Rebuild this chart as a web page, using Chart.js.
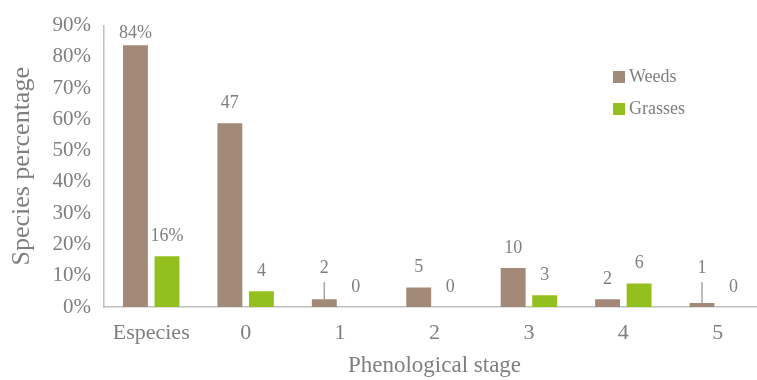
<!DOCTYPE html>
<html>
<head>
<meta charset="utf-8">
<script src="https://cdn.jsdelivr.net/npm/chart.js@4"></script>
<style>
  html, body { margin: 0; padding: 0; background: #fff; overflow: hidden; }
  #wrap { width: 765px; height: 380px; }
</style>
</head>
<body>
<div id="wrap"><canvas id="stageChart"></canvas></div>
<script>
// stages and species counts per stage
const categories = ['Especies', '0', '1', '2', '3', '4', '5'];
const weedCounts = [67, 47, 2, 5, 10, 2, 1];
const grassCounts = [13, 4, 0, 0, 3, 6, 0];
const totalSpecies = 80;
const yTickValues = [0, 10, 20, 30, 40, 50, 60, 70, 80, 90];

const weedPct = weedCounts.map(c => c / totalSpecies * 100);
const grassPct = grassCounts.map(c => c / totalSpecies * 100);

const serif = "'Liberation Serif', 'DejaVu Serif', serif";
const textGray = '#7F7F7F';
const axisGray = '#BFBFBF';

// labels for tiny bars are lifted with a leader line
const leaderLines = [[0, 2], [0, 6]];

function labelText(ds, i) {
  const counts = ds === 0 ? weedCounts : grassCounts;
  const pct = ds === 0 ? weedPct : grassPct;
  return i === 0 ? Math.round(pct[i]) + '%' : String(counts[i]);
}

const barLabels = {
  id: 'barLabels',
  afterDatasetsDraw(chart) {
    const ctx = chart.ctx;
    const top = chart.chartArea.top;
    const base = chart.scales.y.getPixelForValue(0);
    ctx.save();
    ctx.font = '18px ' + serif;
    ctx.fillStyle = textGray;
    ctx.textAlign = 'center';
    ctx.textBaseline = 'middle';
    chart.data.datasets.forEach((d, ds) => {
      chart.getDatasetMeta(ds).data.forEach((bar, i) => {
        const lifted = leaderLines.some(p => p[0] === ds && p[1] === i);
        let y = lifted ? base - 39 : Math.max(bar.y - 20, top + 8);
        ctx.fillText(labelText(ds, i), bar.x, y);
        if (lifted) {
          ctx.strokeStyle = '#A6A6A6';
          ctx.lineWidth = 1.5;
          ctx.beginPath();
          ctx.moveTo(bar.x, y + 14);
          ctx.lineTo(bar.x, bar.y);
          ctx.stroke();
        }
      });
    });

    // legend
    ctx.textAlign = 'left';
    chart.data.datasets.forEach((d, ds) => {
      const ly = 77 + ds * 32;
      ctx.fillStyle = d.backgroundColor;
      ctx.fillRect(613, ly - 6, 12, 12);
      ctx.fillStyle = textGray;
      ctx.fillText(d.label, 629, ly);
    });
    ctx.restore();
  }
};

new Chart(document.getElementById('stageChart'), {
  type: 'bar',
  data: {
    labels: categories,
    datasets: [
      {
        label: 'Weeds',
        data: weedPct,
        backgroundColor: '#A38978',
        categoryPercentage: 0.668,
        barPercentage: 0.79
      },
      {
        label: 'Grasses',
        data: grassPct,
        backgroundColor: '#93C01F',
        categoryPercentage: 0.668,
        barPercentage: 0.79
      }
    ]
  },
  options: {
    responsive: true,
    maintainAspectRatio: false,
    animation: false,
    layout: { padding: { top: 20, right: 0, bottom: 0, left: 0 } },
    plugins: {
      legend: { display: false },
      tooltip: { enabled: false }
    },
    scales: {
      x: {
        grid: { display: false, drawTicks: false },
        border: { color: axisGray, width: 1.5 },
        ticks: { color: textGray, font: { family: serif, size: 22 }, padding: 13 },
        title: {
          display: true,
          text: 'Phenological stage',
          color: textGray,
          font: { family: serif, size: 23 },
          padding: { top: 0, bottom: 0 }
        },
        afterFit(scale) { scale.height = 73; }
      },
      y: {
        min: 0,
        max: 90,
        afterBuildTicks(scale) { scale.ticks = yTickValues.map(v => ({ value: v })); },
        grid: { display: false, drawTicks: false },
        border: { color: axisGray, width: 1.5 },
        ticks: {
          color: textGray,
          font: { family: serif, size: 21 },
          padding: 13,
          callback: v => v + '%'
        },
        title: {
          display: true,
          text: 'Species percentage',
          color: textGray,
          font: { family: serif, size: 26 },
          padding: { top: 7, bottom: 0 }
        },
        afterFit(scale) { scale.width = 104; }
      }
    }
  },
  plugins: [barLabels]
});
</script>
</body>
</html>
